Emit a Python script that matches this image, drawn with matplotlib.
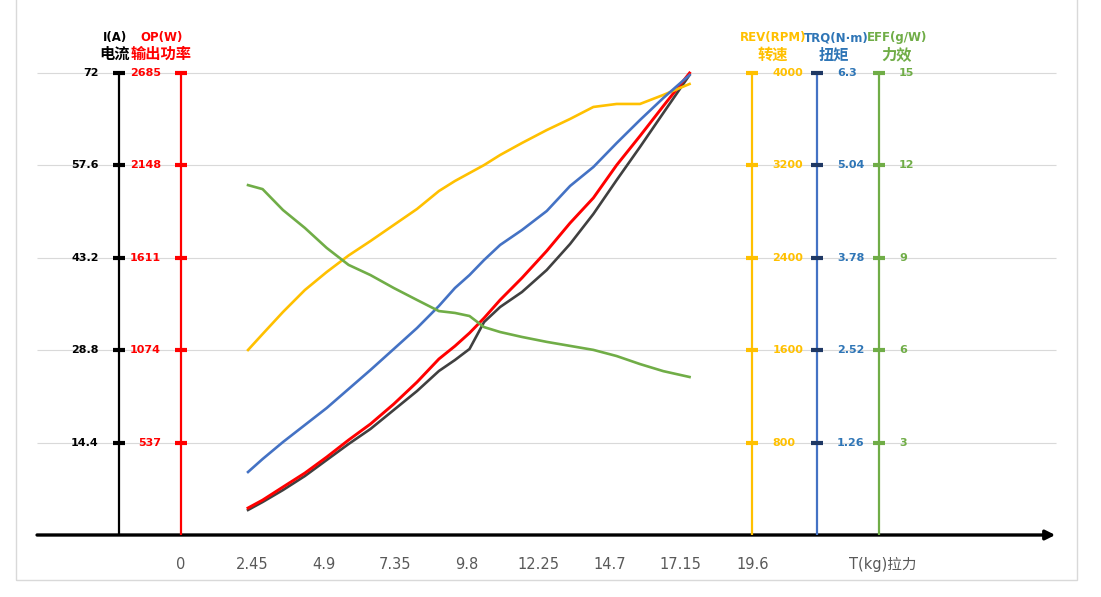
import numpy as np
import matplotlib.pyplot as plt
from matplotlib.patches import Rectangle

plt.rcParams['font.family'] = ['DejaVu Sans', 'Noto Sans CJK SC']

# pull (kg) sample points and the measured curves
thrust = [2.3, 2.8, 3.5, 4.25, 5.0, 5.75, 6.5, 7.3, 8.1, 8.85, 9.4,
          9.9, 10.4, 10.95, 11.7, 12.55, 13.35, 14.15, 14.95, 15.75, 16.55, 17.45]
current = [3.90, 5.14, 7.01, 9.19, 11.69, 14.18, 16.52, 19.48, 22.44, 25.56, 27.27,
           28.99, 33.19, 35.53, 37.87, 41.30, 45.35, 50.03, 55.32, 60.47, 65.77, 71.69]
power = [157, 203, 279, 360, 453, 552, 645, 761, 889, 1023, 1098,
         1174, 1261, 1366, 1494, 1651, 1813, 1959, 2150, 2319, 2493, 2685]
speed = [1602, 1740, 1931, 2121, 2277, 2420, 2545, 2684, 2823, 2978, 3065,
         3134, 3203, 3290, 3394, 3506, 3602, 3706, 3732, 3732, 3810, 3905]
torque = [0.859, 1.036, 1.268, 1.500, 1.732, 1.991, 2.250, 2.536, 2.823, 3.123, 3.368,
          3.545, 3.750, 3.955, 4.159, 4.418, 4.759, 5.018, 5.345, 5.659, 5.959, 6.273]
efficiency = [11.36, 11.23, 10.55, 9.97, 9.32, 8.77, 8.44, 8.02, 7.63, 7.27, 7.21,
              7.11, 6.75, 6.59, 6.43, 6.27, 6.14, 6.01, 5.81, 5.55, 5.32, 5.13]

x_ticks = [0, 2.45, 4.9, 7.35, 9.8, 12.25, 14.7, 17.15, 19.6]
x_labels = ['0', '2.45', '4.9', '7.35', '9.8', '12.25', '14.7', '17.15', '19.6']
current_ticks = [14.4, 28.8, 43.2, 57.6, 72]
current_labels = ['14.4', '28.8', '43.2', '57.6', '72']
power_ticks = [537, 1074, 1611, 2148, 2685]
speed_ticks = [800, 1600, 2400, 3200, 4000]
torque_ticks = [1.26, 2.52, 3.78, 5.04, 6.3]
torque_labels = ['1.26', '2.52', '3.78', '5.04', '6.3']
eff_ticks = [3, 6, 9, 12, 15]

BLACK = '#000000'
RED = '#FF0000'
YELLOW = '#FFC000'
BLUE = '#4472C4'
GREEN = '#70AD47'

fig = plt.figure(figsize=(11.01, 5.97), dpi=100)
ax = fig.add_axes([0, 0, 1, 1])
XLIM = (-6.211, 31.569)
YLIM = (-9.662, 83.377)
ax.set_xlim(XLIM)
ax.set_ylim(YLIM)
ax.axis('off')

fig.patches.append(Rectangle((16 / 1101, 17 / 597), 1061 / 1101, 1.2,
                             transform=fig.transFigure, fill=False,
                             edgecolor='#D9D9D9', lw=1))

# horizontal grid
ax.hlines(current_ticks, -4.94, 30.02, color='#D9D9D9', lw=0.8, zorder=0)

# x axis with arrow
ax.annotate('', xy=(30.0, 0), xytext=(-4.94, 0),
            arrowprops=dict(arrowstyle='-|>', lw=2.4, color='black',
                            mutation_scale=14, shrinkA=0, shrinkB=0))
for xt, lab in zip(x_ticks, x_labels):
    ax.annotate(lab, (xt, 0), xytext=(0, -21), textcoords='offset points',
                ha='center', va='center', fontsize=10.5, color='#595959')
ax.annotate('T(kg)拉力', (24.09, 0), xytext=(0, -21), textcoords='offset points',
            ha='center', va='center', fontsize=10.5, color='#595959')


def make_scale(top):
    t = ax.twinx()
    t.set_position([0, 0, 1, 1])
    t.set_ylim(YLIM[0] * top / 72, YLIM[1] * top / 72)
    t.set_xlim(XLIM)
    t.axis('off')
    return t


ax_i = ax
ax_p = make_scale(2685)
ax_s = make_scale(4000)
ax_t = make_scale(6.3)
ax_e = make_scale(15)

axes_info = [
    # axis, x position, top, ticks, labels, line col, tick col, text col, side, header, cjk, hdx, cjkdx
    (ax_i, -2.13, 72, current_ticks, current_labels, BLACK, BLACK, BLACK, 'left', 'I(A)', '电流', -3, -3),
    (ax_p, 0.0, 2685, power_ticks, [str(v) for v in power_ticks], RED, RED, RED, 'left', 'OP(W)', '输出功率', -14, -14),
    (ax_s, 19.6, 4000, speed_ticks, [str(v) for v in speed_ticks], YELLOW, YELLOW, YELLOW, 'right', 'REV(RPM)', '转速', 15, 15),
    (ax_t, 21.82, 6.3, torque_ticks, torque_labels, BLUE, '#1F3864', '#2E75B6', 'right', 'TRQ(N·m)', '扭矩', 14, 12),
    (ax_e, 23.95, 15, eff_ticks, [str(v) for v in eff_ticks], GREEN, GREEN, GREEN, 'right', 'EFF(g/W)', '力效', 13, 13),
]

for a, xp, top, ticks, labels, lc, tc, txc, side, head, cjk, hdx, cdx in axes_info:
    a.vlines(xp, 0, top, color=lc, lw=1.6, zorder=2)
    a.plot([xp] * len(ticks), ticks, ls='none', marker='_', ms=9,
           mew=3, color=tc, zorder=3)
    off = -14.5 if side == 'left' else 14.5
    ha = 'right' if side == 'left' else 'left'
    for v, lab in zip(ticks, labels):
        a.annotate(lab, (xp, v), xytext=(off, 0), textcoords='offset points',
                   ha=ha, va='center', fontsize=8, fontweight='bold', color=txc)
    a.annotate(head, (xp, top), xytext=(hdx, 25.5), textcoords='offset points',
               ha='center', va='center', fontsize=8.5, fontweight='bold', color=txc)
    a.annotate(cjk, (xp, top), xytext=(cdx, 13.5), textcoords='offset points',
               ha='center', va='center', fontsize=11, fontweight='bold', color=txc,
               family=['Noto Sans CJK SC', 'DejaVu Sans'])

# data curves
ax_e.plot(thrust, efficiency, color=GREEN, lw=1.9, zorder=4)
ax_s.plot(thrust, speed, color=YELLOW, lw=1.9, zorder=4)
ax_t.plot(thrust, torque, color=BLUE, lw=1.9, zorder=4)
ax_i.plot(thrust, current, color='#404040', lw=1.9, zorder=4)
ax_p.plot(thrust, power, color=RED, lw=2.1, zorder=5)

plt.savefig('out.png', dpi=100)
